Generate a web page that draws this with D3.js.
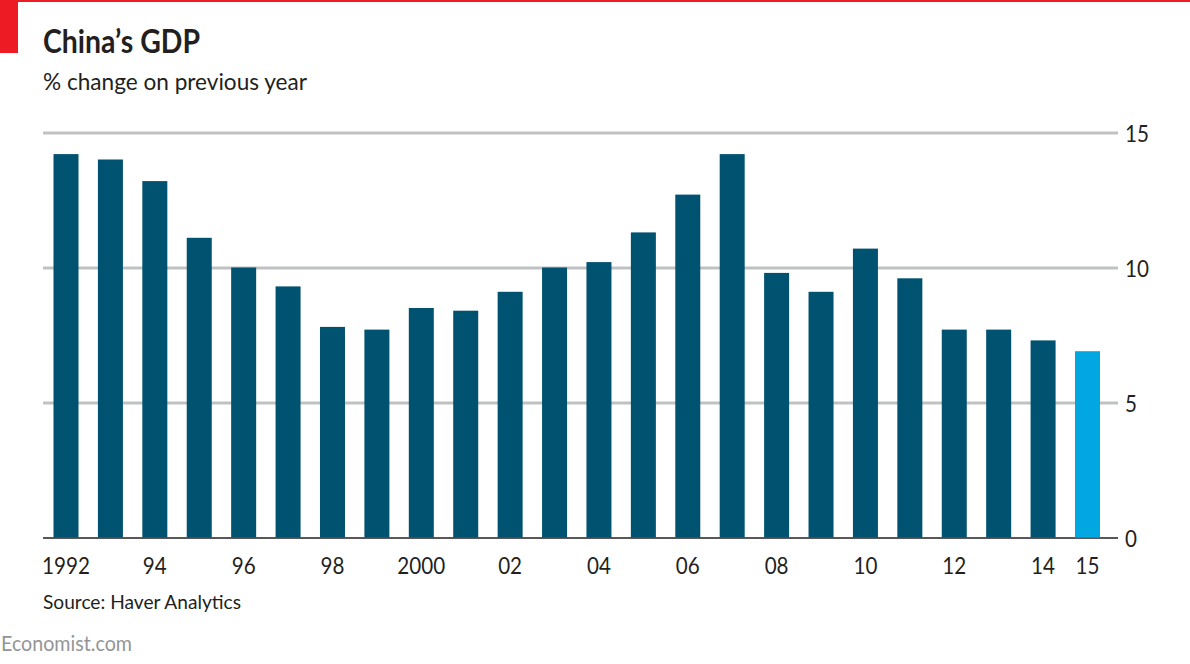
<!DOCTYPE html>
<html><head><meta charset="utf-8">
<script src="https://cdn.jsdelivr.net/npm/d3@7"></script>
<style>
html,body{margin:0;padding:0;background:#fff}
svg{display:block}
text{font-family:Lato,"Noto Sans",sans-serif}
</style></head><body>
<svg id="c" width="1190" height="664"></svg>
<script>
const years=[1992,1993,1994,1995,1996,1997,1998,1999,2000,2001,2002,2003,2004,2005,2006,2007,2008,2009,2010,2011,2012,2013,2014,2015];
const growth=[14.2,14.0,13.2,11.1,10.0,9.3,7.8,7.7,8.5,8.4,9.1,10.0,10.2,11.3,12.7,14.2,9.8,9.1,10.7,9.6,7.7,7.7,7.3,6.9];
const xTickYears=[1992,1994,1996,1998,2000,2002,2004,2006,2008,2010,2012,2014,2015];
const xTickLabels=["1992","94","96","98","2000","02","04","06","08","10","12","14","15"];
const yTicks=[0,5,10,15];
const highlightYear=2015;

const svg=d3.select("#c");
const x=d3.scaleBand().domain(years).range([53.5,1100]).paddingInner(0.437).paddingOuter(0);
const y=d3.scaleLinear().domain([0,15]).range([537.5,132.5]);

svg.append("rect").attr("x",0).attr("y",0).attr("width",1190).attr("height",2).attr("fill","#ed1c24");
svg.append("rect").attr("x",0).attr("y",0).attr("width",18).attr("height",53).attr("fill","#ed1c24");

function label(px,py,size,weight,fill,width,str){
  svg.append("text").attr("x",px).attr("y",py).attr("font-size",size).attr("font-weight",weight).attr("fill",fill)
    .attr("textLength",width).attr("lengthAdjust","spacingAndGlyphs").text(str);
}
label(43,53,33,700,"#231f20",157,"China’s GDP");
label(43,90,24,400,"#231f20",264,"% change on previous year");

const squeeze=0.86;
const yAxis=d3.axisRight(y).tickValues(yTicks).tickSize(1075).tickPadding(7).tickFormat(d3.format("d"));
const gy=svg.append("g").attr("transform","translate(43,0)").call(yAxis);
gy.select(".domain").remove();
gy.selectAll(".tick line").attr("stroke",d=>d===0?"#231f20":"#bfc1c2").attr("stroke-width",d=>d===0?1.5:3);
gy.selectAll(".tick text").attr("font-size",24).attr("fill","#231f20").attr("x",1082/squeeze).attr("dy","0.36em").attr("transform",`scale(${squeeze},1)`);

svg.append("g").selectAll("rect").data(years).join("rect")
 .attr("x",d=>x(d)).attr("width",x.bandwidth())
 .attr("y",(d,i)=>y(growth[i])).attr("height",(d,i)=>y(0)-y(growth[i]))
 .attr("fill",d=>d===highlightYear?"#00a7e0":"#005370");

const xAxis=d3.axisBottom(x).tickValues(xTickYears).tickSize(0).tickPadding(0).tickFormat(d=>xTickLabels[xTickYears.indexOf(d)]);
const gx=svg.append("g").attr("transform","translate(0,574)").call(xAxis);
gx.select(".domain").remove();
gx.selectAll(".tick text").attr("font-size",24).attr("fill","#231f20").attr("y",0).attr("dy",0).attr("transform",`scale(${squeeze},1)`);

label(43,609,20,400,"#231f20",198,"Source: Haver Analytics");
label(1,651,21,400,"#939598",131,"Economist.com");
</script></body></html>
